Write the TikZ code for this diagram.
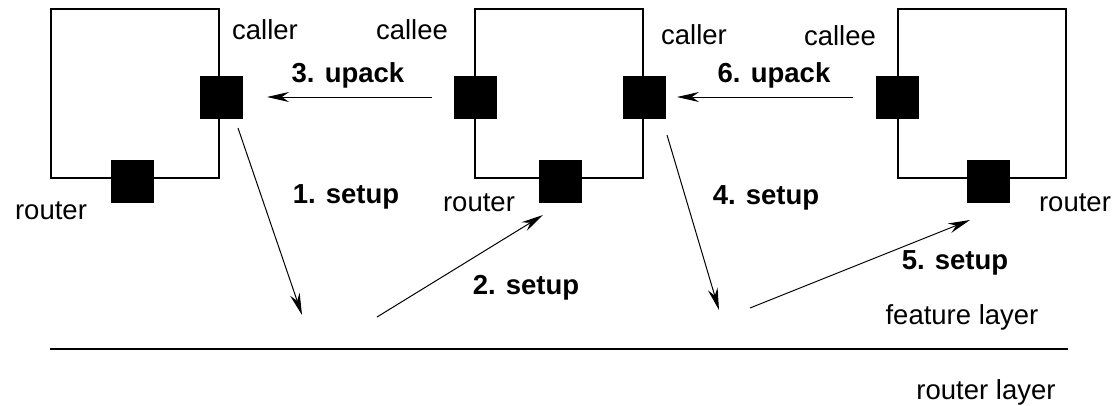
\documentclass[tikz,border=0pt]{standalone}
\usepackage{fontspec}
\setmainfont{Liberation Sans}
\usetikzlibrary{arrows.meta}
\begin{document}
\begin{tikzpicture}[x=1pt,y=-1pt,
  box/.style={draw,line width=1.5pt,minimum width=168pt,minimum height=169pt,inner sep=0pt},
  port/.style={fill=black,minimum size=43pt,inner sep=0pt},
  lbl/.style={font=\fontsize{27.5}{31}\selectfont,inner sep=0pt},
  blbl/.style={font=\fontsize{27.5}{31}\selectfont\bfseries,inner sep=0pt},
  arr/.style={line width=1pt,-{Stealth[length=22pt,width=10pt]}}]
\useasboundingbox (0,0) rectangle (1117,405);
% boxes
\node[box] (b1) at (135,93.5) {};
\node[box] (b2) at (559,93.5) {};
\node[box] (b3) at (982,93.5) {};
% ports
\node[port] (p1r) at (221.5,97.5) {};
\node[port] (p1b) at (132,181.5) {};
\node[port] (p2l) at (475.5,97.5) {};
\node[port] (p2r) at (644,97.5) {};
\node[port] (p2b) at (560,181.5) {};
\node[port] (p3l) at (897.5,97.5) {};
\node[port] (p3b) at (988,181.5) {};
% labels
\node[lbl] (t1) at (265,30) {caller};
\node[lbl] (t2) at (412,30) {callee};
\node[lbl] (t3) at (694,35) {caller};
\node[lbl] (t4) at (840,36) {callee};
\node[lbl] (t5) at (51,211) {router};
\node[lbl] (t6) at (479,203) {router};
\node[lbl] (t7) at (1075,203) {router};
\node[lbl] (t8) at (962,317) {feature layer};
\node[lbl] (t9) at (986,392) {router layer};
\node[blbl] (s3) at (348,75) {3. upack};
\node[blbl] (s6) at (774,75) {6. upack};
\node[blbl] (s1) at (346,197) {1. setup};
\node[blbl] (s2) at (526,288) {2. setup};
\node[blbl] (s4) at (766,198) {4. setup};
\node[blbl] (s5) at (955,263) {5. setup};
% free ends
\coordinate (a1s) at (238,128);
\coordinate (a1e) at (302,315);
\coordinate (a2s) at (377,317);
\coordinate (a2e) at (543,215);
\coordinate (a3s) at (432,97);
\coordinate (a3e) at (267,97);
\coordinate (a4s) at (667,135);
\coordinate (a4e) at (719,310);
\coordinate (a5s) at (750,308);
\coordinate (a5e) at (970,220);
\coordinate (a6s) at (853,97);
\coordinate (a6e) at (677,97);
\coordinate (l1) at (50,349);
\coordinate (l2) at (1068,349);
% arrows
\draw[arr] (a1s) -- (a1e);
\draw[arr] (a2s) -- (a2e);
\draw[arr] (a3s) -- (a3e);
\draw[arr] (a4s) -- (a4e);
\draw[arr] (a5s) -- (a5e);
\draw[arr] (a6s) -- (a6e);
\draw[line width=1.5pt] (l1) -- (l2);
\end{tikzpicture}
\end{document}
